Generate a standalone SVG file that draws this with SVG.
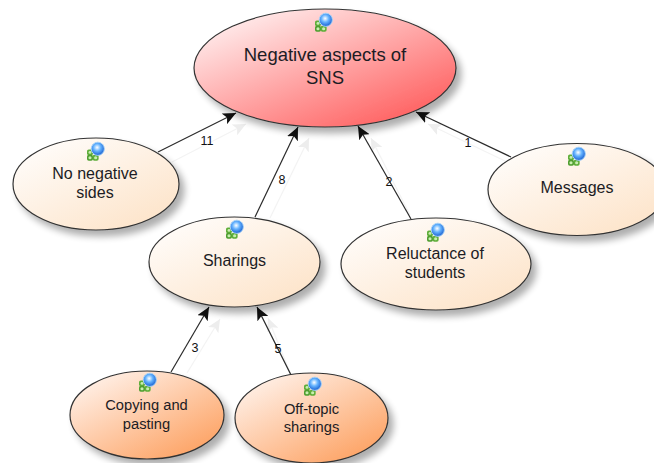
<svg xmlns="http://www.w3.org/2000/svg" width="654" height="463" viewBox="0 0 654 463">
<style>
text{font-family:"Liberation Sans",Arial,sans-serif;fill:#1c1c24;text-anchor:middle}
.n{font-size:16px}
.s{font-size:14.7px}
.m{font-size:18.5px}
.l{font-size:12.5px;fill:#111}
.e{stroke:#333;stroke-width:1.2;filter:url(#sh)}
.c{stroke:#2a2a2a;stroke-width:1.2;fill:none;marker-end:url(#ah)}
.f{stroke:#f3f3f3;stroke-width:1.2;fill:none;marker-end:url(#fh)}
</style>
<defs>
<linearGradient id="gr" x1="0.1" y1="0.05" x2="0.9" y2="0.95"><stop offset="0" stop-color="#fff2f2"/><stop offset="1" stop-color="#ff5a5a"/></linearGradient>
<linearGradient id="gp" x1="0.1" y1="0.05" x2="0.9" y2="0.95"><stop offset="0" stop-color="#fffdfb"/><stop offset="1" stop-color="#fde3c8"/></linearGradient>
<linearGradient id="go" x1="0.1" y1="0.05" x2="0.9" y2="0.95"><stop offset="0" stop-color="#fff3ec"/><stop offset="1" stop-color="#fd9f5e"/></linearGradient>
<radialGradient id="gb" cx="0.45" cy="0.4" r="0.6"><stop offset="0" stop-color="#ffffff"/><stop offset="0.45" stop-color="#66b4ff"/><stop offset="1" stop-color="#1a5fd0"/></radialGradient>
<filter id="sh" x="-15%" y="-15%" width="135%" height="140%"><feGaussianBlur in="SourceAlpha" stdDeviation="3.5"/><feOffset dx="5" dy="6"/><feComponentTransfer><feFuncA type="linear" slope="0.32"/></feComponentTransfer><feMerge><feMergeNode/><feMergeNode in="SourceGraphic"/></feMerge></filter>
<marker id="ah" markerUnits="userSpaceOnUse" markerWidth="14" markerHeight="12" refX="13" refY="6" orient="auto"><path d="M0 0L13 6L0 12L3 6Z" fill="#111"/></marker>
<marker id="fh" markerUnits="userSpaceOnUse" markerWidth="14" markerHeight="12" refX="13" refY="6" orient="auto"><path d="M0 0L13 6L0 12L3 6Z" fill="#ededed"/></marker>
<g id="ic" transform="translate(1 2) scale(1.2)"><rect x="-7.500" y="-3" width="5" height="5" rx="1.500" fill="#5fae3a"/><rect x="-7.500" y="1.500" width="5" height="5" rx="1.500" fill="#4f9e30"/><rect x="-2.800" y="1.500" width="5" height="5" rx="1.500" fill="#5fae3a"/><circle cx="-5" cy="-0.500" r="1.200" fill="#c8eeb0"/><circle cx="-5" cy="4" r="1.300" fill="#c8eeb0"/><circle cx="-0.300" cy="4" r="1.300" fill="#c8eeb0"/><circle cx="1.500" cy="-3.500" r="5.500" fill="url(#gb)" stroke="#a5d2f8" stroke-width="0.8"/></g>
</defs>
<g id="connectors">
<path class="f" d="M172 162L246 124"/>
<path class="f" d="M270 218L309 138"/>
<path class="f" d="M410 215L371 138"/>
<path class="f" d="M505 161L428 124"/>
<path class="f" d="M187 373L220 319"/>
<path class="f" d="M291 375L268 318"/>
<path class="c" d="M158 152L236 113"/>
<path class="c" d="M255 217L298 127"/>
<path class="c" d="M411 219L358 126"/>
<path class="c" d="M511 157L416 112"/>
<path class="c" d="M171 372L209 307"/>
<path class="c" d="M291 375L257 307"/>
<text class="l" x="207" y="145">11</text>
<text class="l" x="282" y="184">8</text>
<text class="l" x="389" y="186">2</text>
<text class="l" x="468" y="147">1</text>
<text class="l" x="195" y="352">3</text>
<text class="l" x="278" y="353">5</text>
</g>
<g id="node-main"><ellipse class="e" cx="325" cy="68" rx="131" ry="59" fill="url(#gr)"/><use href="#ic" x="323" y="22"/><text class="m" x="325" y="61">Negative aspects of</text><text class="m" x="325" y="84">SNS</text></g>
<g id="node-no-negative"><ellipse class="e" cx="96" cy="184" rx="83" ry="46" fill="url(#gp)"/><use href="#ic" x="95" y="151"/><text class="n" x="95" y="179">No negative</text><text class="n" x="95" y="198">sides</text></g>
<g id="node-sharings"><ellipse class="e" cx="234.500" cy="262" rx="85.500" ry="45" fill="url(#gp)"/><use href="#ic" x="234" y="229"/><text class="n" x="234.500" y="266">Sharings</text></g>
<g id="node-reluctance"><ellipse class="e" cx="436" cy="264" rx="95" ry="46" fill="url(#gp)"/><use href="#ic" x="435" y="232"/><text class="n" x="435" y="259">Reluctance of</text><text class="n" x="435" y="278">students</text></g>
<g id="node-messages"><ellipse class="e" cx="577" cy="189.500" rx="89" ry="46" fill="url(#gp)"/><use href="#ic" x="576" y="156"/><text class="n" x="577" y="193">Messages</text></g>
<g id="node-copying"><ellipse class="e" cx="147" cy="415" rx="77" ry="44" fill="url(#go)"/><use href="#ic" x="147" y="382"/><text class="s" x="146.500" y="410">Copying and</text><text class="s" x="146.500" y="429">pasting</text></g>
<g id="node-offtopic"><ellipse class="e" cx="311.500" cy="418" rx="76.500" ry="45" fill="url(#go)"/><use href="#ic" x="312" y="386"/><text class="s" x="311.500" y="414">Off-topic</text><text class="s" x="311.500" y="432">sharings</text></g>
</svg>
